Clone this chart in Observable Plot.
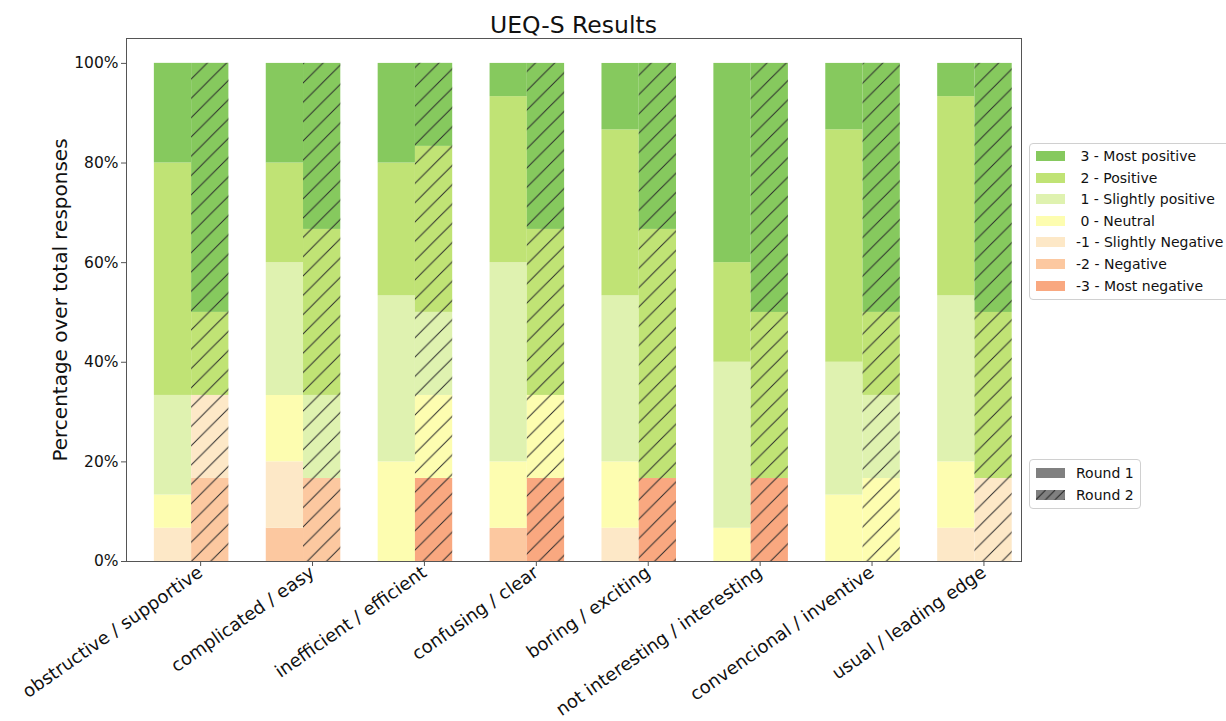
<!DOCTYPE html>
<html>
<head>
<meta charset="utf-8">
<script src="https://cdn.jsdelivr.net/npm/d3@7"></script>
<script src="https://cdn.jsdelivr.net/npm/@observablehq/plot@0.6"></script>
<style>
  html, body { margin: 0; padding: 0; background: #fff; }
  body { font-family: "DejaVu Sans", sans-serif; color: #111; }
  #wrap { position: relative; width: 1226px; height: 721px; overflow: hidden; }
  #title { position: absolute; left: 126px; width: 895px; top: 10px; text-align: center; font-size: 23.5px; line-height: 30px; }
  #ylabel { position: absolute; left: 60px; top: 300px; transform: translate(-50%, -50%) rotate(-90deg); font-size: 20px; white-space: nowrap; }
  .legend { position: absolute; border: 1px solid #d0d0d0; border-radius: 4px; background: #fff; font-size: 14px; }
  .legend .sw { position: absolute; left: 6px; width: 29px; height: 10px; }
  .legend .lab { position: absolute; left: 46px; white-space: pre; line-height: 20px; }
</style>
</head>
<body>
<div id="wrap">
  <div id="chart"></div>
  <div id="title">UEQ-S Results</div>
  <div id="ylabel">Percentage over total responses</div>
  <div id="legend1" class="legend"></div>
  <div id="legend2" class="legend"></div>
</div>
<script>
// ---------- data ----------
const categories = [
  "obstructive / supportive",
  "complicated / easy",
  "inefficient / efficient",
  "confusing / clear",
  "boring / exciting",
  "not interesting / interesting",
  "convencional / inventive",
  "usual / leading edge"
];
const levels = [
  "-3 - Most negative",
  "-2 - Negative",
  "-1 - Slightly Negative",
  " 0 - Neutral",
  " 1 - Slightly positive",
  " 2 - Positive",
  " 3 - Most positive"
];
const levelColors = ["#f9a880", "#fcc8a0", "#fde8c7", "#fdfdb0", "#dff2b0", "#c0e375", "#86c95e"];
const rounds = ["Round 1", "Round 2"];
const roundSwatch = "#808080";
const yTicks = [0, 20, 40, 60, 80, 100];

// Round 1 percentages by level (category order as above)
const r1_m3 = [0, 0, 0, 0, 0, 0, 0, 0];
const r1_m2 = [0, 6.67, 0, 6.67, 0, 0, 0, 0];
const r1_m1 = [6.67, 13.33, 0, 0, 6.67, 0, 0, 6.67];
const r1_z0 = [6.67, 13.33, 20, 13.33, 13.33, 6.67, 13.33, 13.33];
const r1_p1 = [20, 26.67, 33.33, 40, 33.33, 33.33, 26.67, 33.33];
const r1_p2 = [46.67, 20, 26.67, 33.33, 33.33, 20, 46.67, 40];
const r1_p3 = [20, 20, 20, 6.67, 13.33, 40, 13.33, 6.67];

// Round 2 percentages by level
const r2_m3 = [0, 0, 16.67, 16.67, 16.67, 16.67, 0, 0];
const r2_m2 = [16.67, 16.67, 0, 0, 0, 0, 0, 0];
const r2_m1 = [16.67, 0, 0, 0, 0, 0, 0, 16.67];
const r2_z0 = [0, 0, 16.67, 16.67, 0, 0, 16.67, 0];
const r2_p1 = [0, 16.67, 16.67, 0, 0, 0, 16.67, 0];
const r2_p2 = [16.67, 33.33, 33.33, 33.33, 50, 33.33, 16.67, 33.33];
const r2_p3 = [50, 33.33, 16.67, 33.33, 33.33, 50, 50, 50];

const round1 = [r1_m3, r1_m2, r1_m1, r1_z0, r1_p1, r1_p2, r1_p3];
const round2 = [r2_m3, r2_m2, r2_m1, r2_z0, r2_p1, r2_p2, r2_p3];

function tidy(series, round) {
  const rows = [];
  series.forEach((vals, li) => {
    vals.forEach((v, ci) => rows.push({cat: categories[ci], level: levels[li], round, value: v}));
  });
  return rows;
}
const rows1 = tidy(round1, rounds[0]);
const rows2 = tidy(round2, rounds[1]);

// ---------- layout ----------
const W = 1226, H = 721;
const mLeft = 126, mRight = 205, mTop = 38, mBottom = 160;
const pInner = 0.334, pOuter = 0.166, alignX = 0.75;
const step = (W - mLeft - mRight) / (categories.length - pInner + 2 * pOuter);
const half = (1 - pInner) * step / 2;

const stackOpts = {x: "cat", y: "value", order: null};

const plot = Plot.plot({
  width: W,
  height: H,
  marginLeft: mLeft,
  marginRight: mRight,
  marginTop: mTop,
  marginBottom: mBottom,
  style: {fontFamily: "DejaVu Sans, sans-serif", fontSize: "15px", color: "#111", background: "#fff"},
  x: {domain: categories, paddingInner: pInner, paddingOuter: pOuter, align: alignX, round: false, label: null},
  y: {domain: [0, 105], label: null},
  color: {domain: levels, range: levelColors},
  marks: [
    Plot.barY(rows1, Plot.stackY({...stackOpts, fill: "level", insetRight: half, insetLeft: 0})),
    Plot.barY(rows2, Plot.stackY({...stackOpts, fill: "level", insetLeft: half, insetRight: 0})),
    Plot.barY(rows2, Plot.stackY({...stackOpts, fill: "url(#hatch)", insetLeft: half, insetRight: 0})),
    Plot.frame({stroke: "#555", strokeWidth: 1}),
    Plot.axisY({ticks: yTicks, tickFormat: d => d + "%", tickSize: 5, tickPadding: 3, fontSize: 15.5, label: null, stroke: "#555"}),
    Plot.axisX({tickRotate: -35, dx: 9, tickSize: 5, tickPadding: 4, fontSize: 18, label: null, stroke: "#555"})
  ]
});

// hatch pattern ("//")
const ns = "http://www.w3.org/2000/svg";
const defs = document.createElementNS(ns, "defs");
const s = 19.3;
defs.innerHTML = `<pattern id="hatch" patternUnits="userSpaceOnUse" width="${s}" height="${s}">
  <path d="M0,${s} L${s},0 M${-s/4},${s/4} L${s/4},${-s/4} M${s*3/4},${s*5/4} L${s*5/4},${s*3/4}" stroke="#2a2a2a" stroke-width="1" stroke-linecap="square"/>
</pattern>`;
plot.insertBefore(defs, plot.firstChild);
document.getElementById("chart").appendChild(plot);

// ---------- legends ----------
const lg1 = document.getElementById("legend1");
lg1.style.left = "1029px"; lg1.style.top = "143px"; lg1.style.width = "220px"; lg1.style.height = "155px";
const order = levels.slice().reverse();
const colorsRev = levelColors.slice().reverse();
order.forEach((lab, i) => {
  const cy = 12 + i * 21.6;
  const sw = document.createElement("div");
  sw.className = "sw"; sw.style.top = (cy - 5) + "px"; sw.style.background = colorsRev[i];
  const t = document.createElement("div");
  t.className = "lab"; t.style.top = (cy - 10) + "px"; t.textContent = lab;
  lg1.appendChild(sw); lg1.appendChild(t);
});

const lg2 = document.getElementById("legend2");
lg2.style.left = "1029px"; lg2.style.top = "459px"; lg2.style.width = "110px"; lg2.style.height = "48px";
rounds.forEach((lab, i) => {
  const cy = 13 + i * 22;
  const sw = document.createElement("div");
  sw.className = "sw"; sw.style.top = (cy - 5) + "px"; sw.style.background = roundSwatch;
  if (i === 1) {
    sw.innerHTML = `<svg width="29" height="10" style="display:block"><defs><pattern id="hatchS" patternUnits="userSpaceOnUse" width="9.6" height="9.6"><path d="M0,9.6 L9.6,0" stroke="#222" stroke-width="1"/></pattern></defs><rect width="29" height="10" fill="url(#hatchS)"/></svg>`;
  }
  const t = document.createElement("div");
  t.className = "lab"; t.style.top = (cy - 10) + "px"; t.textContent = lab;
  lg2.appendChild(sw); lg2.appendChild(t);
});
</script>
</body>
</html>
